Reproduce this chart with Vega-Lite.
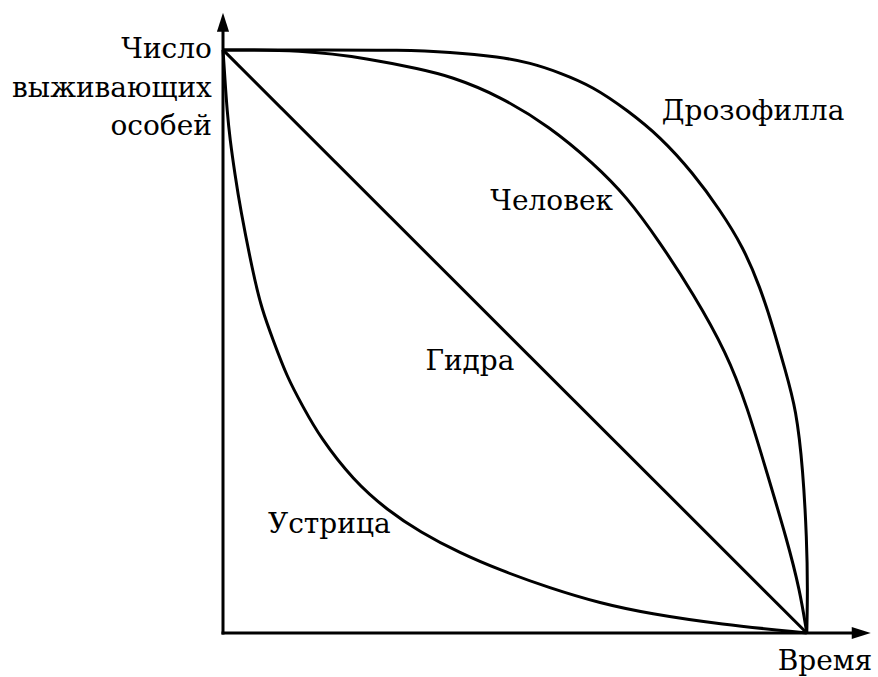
{
  "$schema": "https://vega.github.io/schema/vega-lite/v6.json",
  "width": 648,
  "height": 621,
  "autosize": {"type": "none"},
  "padding": {"left": 223, "top": 12, "right": 7, "bottom": 44},
  "background": "white",
  "config": {"view": {"stroke": null}},
  "datasets": {
    "curves": [
      {"species": "Дрозофилла", "t": 0, "n": 100, "i": 0},
      {"species": "Дрозофилла", "t": 18.3, "n": 100, "i": 1},
      {"species": "Дрозофилла", "t": 30.3, "n": 100, "i": 2},
      {"species": "Дрозофилла", "t": 38.9, "n": 99.66, "i": 3},
      {"species": "Дрозофилла", "t": 47.4, "n": 98.8, "i": 4},
      {"species": "Дрозофилла", "t": 52.6, "n": 97.8, "i": 5},
      {"species": "Дрозофилла", "t": 57.7, "n": 96.1, "i": 6},
      {"species": "Дрозофилла", "t": 63.4, "n": 93.7, "i": 7},
      {"species": "Дрозофилла", "t": 69.2, "n": 89.7, "i": 8},
      {"species": "Дрозофилла", "t": 74.9, "n": 85.1, "i": 9},
      {"species": "Дрозофилла", "t": 80.5, "n": 78.9, "i": 10},
      {"species": "Дрозофилла", "t": 85.1, "n": 72.6, "i": 11},
      {"species": "Дрозофилла", "t": 89.1, "n": 66.2, "i": 12},
      {"species": "Дрозофилла", "t": 92.0, "n": 59.3, "i": 13},
      {"species": "Дрозофилла", "t": 94.2, "n": 52.5, "i": 14},
      {"species": "Дрозофилла", "t": 96.3, "n": 45.1, "i": 15},
      {"species": "Дрозофилла", "t": 98.2, "n": 38.3, "i": 16},
      {"species": "Дрозофилла", "t": 99.35, "n": 28.0, "i": 17},
      {"species": "Дрозофилла", "t": 100.0, "n": 16.0, "i": 18},
      {"species": "Дрозофилла", "t": 100.15, "n": 7.4, "i": 19},
      {"species": "Дрозофилла", "t": 100, "n": 0, "i": 20},
      {"species": "Человек", "t": 0, "n": 100, "i": 0},
      {"species": "Человек", "t": 13.2, "n": 100, "i": 1},
      {"species": "Человек", "t": 25.2, "n": 98.5, "i": 2},
      {"species": "Человек", "t": 33.7, "n": 96.7, "i": 3},
      {"species": "Человек", "t": 38.9, "n": 95.5, "i": 4},
      {"species": "Человек", "t": 47.4, "n": 92.1, "i": 5},
      {"species": "Человек", "t": 56.0, "n": 86.8, "i": 6},
      {"species": "Человек", "t": 63.4, "n": 80.6, "i": 7},
      {"species": "Человек", "t": 69.2, "n": 74.8, "i": 8},
      {"species": "Человек", "t": 74.9, "n": 66.9, "i": 9},
      {"species": "Человек", "t": 80.5, "n": 58.3, "i": 10},
      {"species": "Человек", "t": 86.3, "n": 48.0, "i": 11},
      {"species": "Человек", "t": 89.8, "n": 38.8, "i": 12},
      {"species": "Человек", "t": 93.2, "n": 27.4, "i": 13},
      {"species": "Человек", "t": 96.6, "n": 16.0, "i": 14},
      {"species": "Человек", "t": 98.8, "n": 7.4, "i": 15},
      {"species": "Человек", "t": 100, "n": 0, "i": 16},
      {"species": "Гидра", "t": 0, "n": 100, "i": 0},
      {"species": "Гидра", "t": 100, "n": 0, "i": 1},
      {"species": "Устрица", "t": 0, "n": 100, "i": 0},
      {"species": "Устрица", "t": 0.34, "n": 94.9, "i": 1},
      {"species": "Устрица", "t": 0.69, "n": 89.7, "i": 2},
      {"species": "Устрица", "t": 1.2, "n": 84.6, "i": 3},
      {"species": "Устрица", "t": 2.06, "n": 78.6, "i": 4},
      {"species": "Устрица", "t": 2.91, "n": 73.1, "i": 5},
      {"species": "Устрица", "t": 5.14, "n": 61.7, "i": 6},
      {"species": "Устрица", "t": 6.68, "n": 55.4, "i": 7},
      {"species": "Устрица", "t": 8.56, "n": 50.3, "i": 8},
      {"species": "Устрица", "t": 10.96, "n": 43.9, "i": 9},
      {"species": "Устрица", "t": 13.7, "n": 38.8, "i": 10},
      {"species": "Устрица", "t": 16.6, "n": 33.6, "i": 11},
      {"species": "Устрица", "t": 22.3, "n": 26.2, "i": 12},
      {"species": "Устрица", "t": 28.1, "n": 21.1, "i": 13},
      {"species": "Устрица", "t": 33.8, "n": 17.3, "i": 14},
      {"species": "Устрица", "t": 40.6, "n": 13.7, "i": 15},
      {"species": "Устрица", "t": 47.4, "n": 10.8, "i": 16},
      {"species": "Устрица", "t": 56.0, "n": 7.7, "i": 17},
      {"species": "Устрица", "t": 64.6, "n": 5.1, "i": 18},
      {"species": "Устрица", "t": 73.1, "n": 3.3, "i": 19},
      {"species": "Устрица", "t": 85.1, "n": 1.5, "i": 20},
      {"species": "Устрица", "t": 100, "n": 0, "i": 21}
    ],
    "axes": [
      {"x1": 0, "y1": 0, "x2": 0, "y2": 104},
      {"x1": 0, "y1": 0, "x2": 108, "y2": 0}
    ],
    "arrowUp": [{"x": 0, "y": 103.1}],
    "arrowRight": [{"x": 107.7, "y": 0}],
    "labels": [
      {"label": "Дрозофилла", "x": 90.8, "y": 88.0},
      {"label": "Человек", "x": 56.3, "y": 72.6},
      {"label": "Гидра", "x": 42.3, "y": 45.1},
      {"label": "Устрица", "x": 18.2, "y": 17.2}
    ],
    "axisLabels": [
      {"label": "Число", "x": -1.9, "y": 98.6},
      {"label": "выживающих", "x": -1.9, "y": 92.0},
      {"label": "особей", "x": -1.9, "y": 85.4},
      {"label": "Время", "x": 111.2, "y": -6.3}
    ]
  },
  "layer": [
    {
      "data": {"name": "axes"},
      "mark": {"type": "rule", "strokeWidth": 3, "color": "black", "strokeCap": "square"},
      "encoding": {
        "x": {"field": "x1", "type": "quantitative", "scale": {"domain": [0, 111], "nice": false, "zero": false}, "axis": null},
        "y": {"field": "y1", "type": "quantitative", "scale": {"domain": [0, 106.5], "nice": false, "zero": false}, "axis": null},
        "x2": {"field": "x2"},
        "y2": {"field": "y2"}
      }
    },
    {
      "data": {"name": "curves"},
      "mark": {"type": "line", "interpolate": "basis", "strokeWidth": 3, "color": "black", "clip": false},
      "encoding": {
        "x": {"field": "t", "type": "quantitative"},
        "y": {"field": "n", "type": "quantitative"},
        "detail": {"field": "species"},
        "order": {"field": "i", "type": "quantitative"}
      }
    },
    {
      "data": {"name": "arrowUp"},
      "mark": {"type": "point", "shape": "M0,-1L-0.32,0L0.32,0Z", "filled": true, "color": "black", "opacity": 1, "size": 1444},
      "encoding": {
        "x": {"field": "x", "type": "quantitative"},
        "y": {"field": "y", "type": "quantitative"}
      }
    },
    {
      "data": {"name": "arrowRight"},
      "mark": {"type": "point", "shape": "M1,0L0,-0.32L0,0.32Z", "filled": true, "color": "black", "opacity": 1, "size": 1444},
      "encoding": {
        "x": {"field": "x", "type": "quantitative"},
        "y": {"field": "y", "type": "quantitative"}
      }
    },
    {
      "data": {"name": "labels"},
      "mark": {"type": "text", "font": "DejaVu Serif", "fontSize": 28, "align": "center", "baseline": "alphabetic", "color": "black"},
      "encoding": {
        "x": {"field": "x", "type": "quantitative"},
        "y": {"field": "y", "type": "quantitative"},
        "text": {"field": "label"}
      }
    },
    {
      "data": {"name": "axisLabels"},
      "mark": {"type": "text", "font": "DejaVu Serif", "fontSize": 28, "align": "right", "baseline": "alphabetic", "color": "black"},
      "encoding": {
        "x": {"field": "x", "type": "quantitative"},
        "y": {"field": "y", "type": "quantitative"},
        "text": {"field": "label"}
      }
    }
  ]
}
